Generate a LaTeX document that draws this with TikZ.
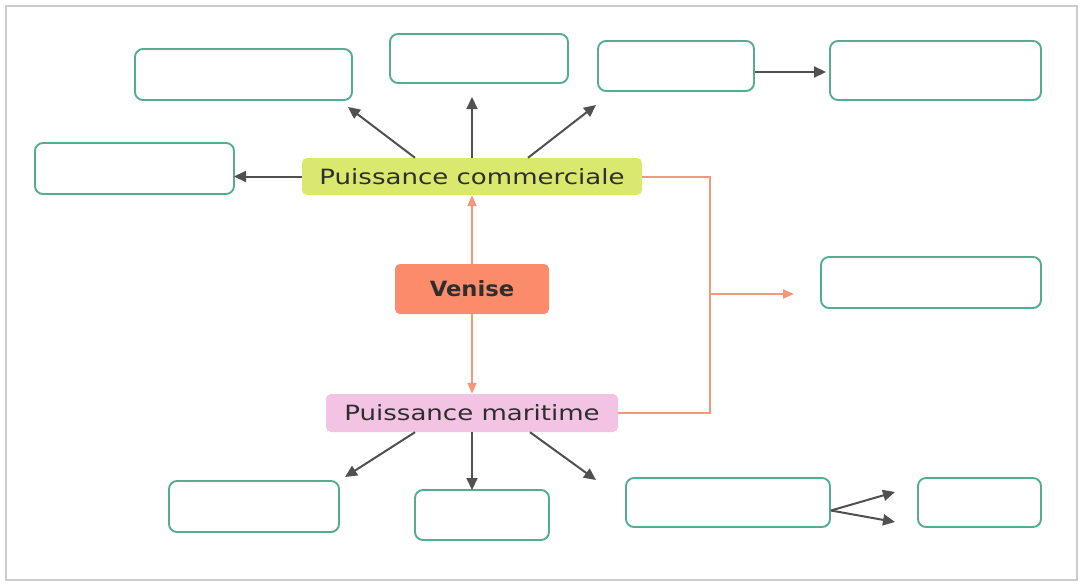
\documentclass[tikz,border=0pt]{standalone}
\usepackage{fontspec}
\usetikzlibrary{arrows.meta}
\newfontfamily\lblfont[FakeStretch=1.24]{DejaVu Sans}
\newfontfamily\venfont[FakeStretch=1.08]{DejaVu Sans Bold}
\definecolor{boxgreen}{HTML}{52AE8E}
\definecolor{arrgray}{HTML}{505050}
\definecolor{salmon}{HTML}{F4977C}
\definecolor{pcfill}{HTML}{DAE86E}
\definecolor{vfill}{HTML}{FA8B6B}
\definecolor{pmfill}{HTML}{F2C3E2}
\definecolor{txt}{HTML}{2E2E2E}
\tikzset{
  emptybox/.style={draw=boxgreen, line width=1.9pt, rounded corners=8pt, fill=white},
  mainnode/.style={rounded corners=5pt, inner sep=0pt, text=txt},
  grayarr/.style={draw=arrgray, line width=2pt, -{Triangle[length=12pt,width=11pt]}},
  salarr/.style={draw=salmon, line width=2pt, -{Triangle[length=11pt,width=9pt]}},
  salline/.style={draw=salmon, line width=2pt}
}
\begin{document}
\begin{tikzpicture}[x=1pt,y=-1pt]
\useasboundingbox (0,0) rectangle (1082,584);
\fill[white] (0,0) rectangle (1082,584);
\draw[draw=black!20, line width=2pt] (6,6) rectangle (1077,580);
% empty boxes
\node[emptybox, minimum width=217pt, minimum height=51pt] (A) at (243.5,74.5) {};
\node[emptybox, minimum width=178pt, minimum height=49pt] (B) at (479,58.5) {};
\node[emptybox, minimum width=156pt, minimum height=50pt] (C) at (676,66) {};
\node[emptybox, minimum width=211pt, minimum height=59pt] (D) at (935.5,70.5) {};
\node[emptybox, minimum width=199pt, minimum height=51pt] (E) at (134.5,168.5) {};
\node[emptybox, minimum width=220pt, minimum height=51pt] (F) at (931,282.5) {};
\node[emptybox, minimum width=170pt, minimum height=51pt] (G) at (254,506.5) {};
\node[emptybox, minimum width=134pt, minimum height=50pt] (H) at (482,515) {};
\node[emptybox, minimum width=204pt, minimum height=49pt] (I) at (728,502.5) {};
\node[emptybox, minimum width=123pt, minimum height=49pt] (J) at (979.5,502.5) {};
% main nodes
\node[mainnode, fill=pcfill, minimum width=340pt, minimum height=37pt, font=\lblfont\fontsize{21}{23}\selectfont] (PC) at (472,176.5) {Puissance commerciale};
\node[mainnode, fill=vfill, minimum width=154pt, minimum height=50pt, font=\venfont\fontsize{21}{23}\selectfont] (V) at (472,289) {Venise};
\node[mainnode, fill=pmfill, minimum width=292pt, minimum height=38pt, font=\lblfont\fontsize{21}{23}\selectfont] (PM) at (472,413) {Puissance maritime};
% coordinates for free arrow ends
\coordinate (aA) at (348,107);
\coordinate (aB) at (472,97);
\coordinate (aC) at (596,105);
\coordinate (aE) at (234,176.5);
\coordinate (aD) at (826,72);
\coordinate (aG) at (345,477);
\coordinate (aH) at (472,490);
\coordinate (aI) at (596,480);
\coordinate (aJ1) at (895,492);
\coordinate (aJ2) at (895,522);
\coordinate (aF) at (794,294);
\coordinate (jr) at (710,176.5);
\coordinate (jm) at (710,294);
% gray arrows
\draw[grayarr] ([xshift=-57pt]PC.north) -- (aA);
\draw[grayarr] (PC.north) -- (aB);
\draw[grayarr] ([xshift=56pt]PC.north) -- (aC);
\draw[grayarr] (PC.west) -- (aE);
\draw[grayarr] (C.east |- aD) -- (aD);
\draw[grayarr] ([xshift=-57pt]PM.south) -- (aG);
\draw[grayarr] (PM.south) -- (aH);
\draw[grayarr] ([xshift=58pt]PM.south) -- (aI);
\draw[grayarr] ([yshift=-8pt]I.east) -- (aJ1);
\draw[grayarr] ([yshift=-8pt]I.east) -- (aJ2);
% salmon connectors
\draw[salarr] (V.north) -- (PC.south);
\draw[salarr] (V.south) -- (PM.north);
\draw[salline] (PC.east) -- (jr) |- (PM.east);
\draw[salarr] (jm) -- (aF);
\end{tikzpicture}
\end{document}
